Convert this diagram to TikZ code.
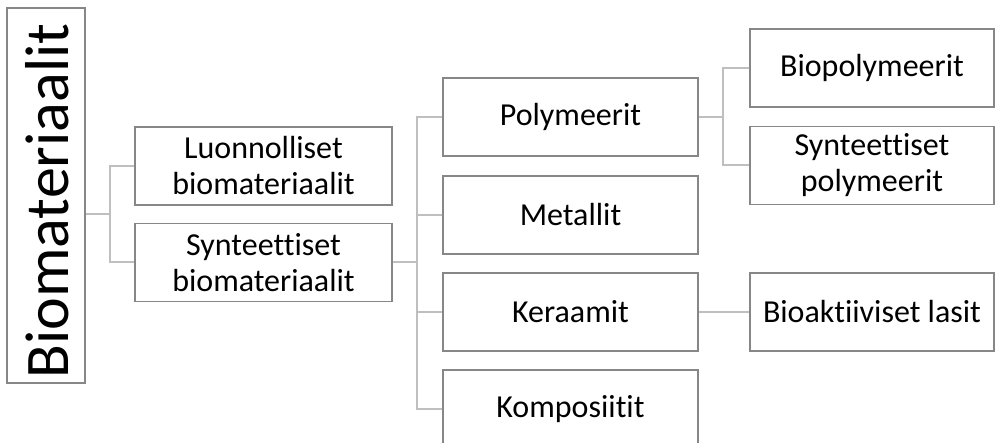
\documentclass[tikz,border=0pt]{standalone}
\usepackage{fontspec}
\setmainfont[Ligatures=NoCommon]{Carlito}
\definecolor{boxgray}{RGB}{135,135,135}
\definecolor{linegray}{RGB}{191,191,191}
\begin{document}
\begin{tikzpicture}[x=1pt,y=-1pt,
  box/.style={draw=boxgray, line width=1.2pt, fill=white, inner sep=0pt, align=center,
    minimum height=78pt, font=\fontsize{32}{36}\selectfont},
  lvlone/.style={box, minimum width=257pt},
  lvltwo/.style={box, minimum width=255pt},
  lvlthree/.style={box, minimum width=244pt},
  conn/.style={draw=linegray, line width=2pt}]
\useasboundingbox (0,0) rectangle (995,443);
\clip (0,0) rectangle (995,443);

\node[draw=boxgray, line width=1.2pt, minimum width=78pt, minimum height=375pt, inner sep=0pt]
  (root) at (46,195.5) {};
\node[rotate=90, font=\fontsize{62}{70}\selectfont, inner sep=0pt] (roottext) at (47,201) {Biomateriaalit};

\node[lvlone] (luo) at (263.5,166) {Luonnolliset\\biomateriaalit};
\node[lvlone] (syn) at (263.5,262.5) {Synteettiset\\biomateriaalit};

\node[lvltwo] (poly) at (570.5,117) {Polymeerit};
\node[lvltwo] (met) at (570.5,215) {Metallit};
\node[lvltwo] (ker) at (570.5,312) {Keraamit};
\node[lvltwo] (komp) at (570.5,409) {Komposiitit};

\node[lvlthree] (biop) at (872,68) {Biopolymeerit};
\node[lvlthree] (synp) at (872,165.5) {Synteettiset\\polymeerit};
\node[lvlthree] (bioa) at (872,312) {Bioaktiiviset lasit};

\coordinate (j0) at (110,214.5);
\coordinate (b1) at (417,0);
\coordinate (b2) at (723,0);

\draw[conn] (j0 -| root.east) -- (j0);
\draw[conn] (luo.west) -| (j0) |- (syn.west);

\draw[conn] (syn.east) -- (syn.east -| b1);
\draw[conn] (poly.west) -| (komp.west -| b1) -- (komp.west);
\draw[conn] (met.west) -- (met.west -| b1);
\draw[conn] (ker.west) -- (ker.west -| b1);

\draw[conn] (poly.east) -- (poly.east -| b2);
\draw[conn] (biop.west) -| (synp.west -| b2) -- (synp.west);
\draw[conn] (ker.east) -- (bioa.west);
\end{tikzpicture}
\end{document}
